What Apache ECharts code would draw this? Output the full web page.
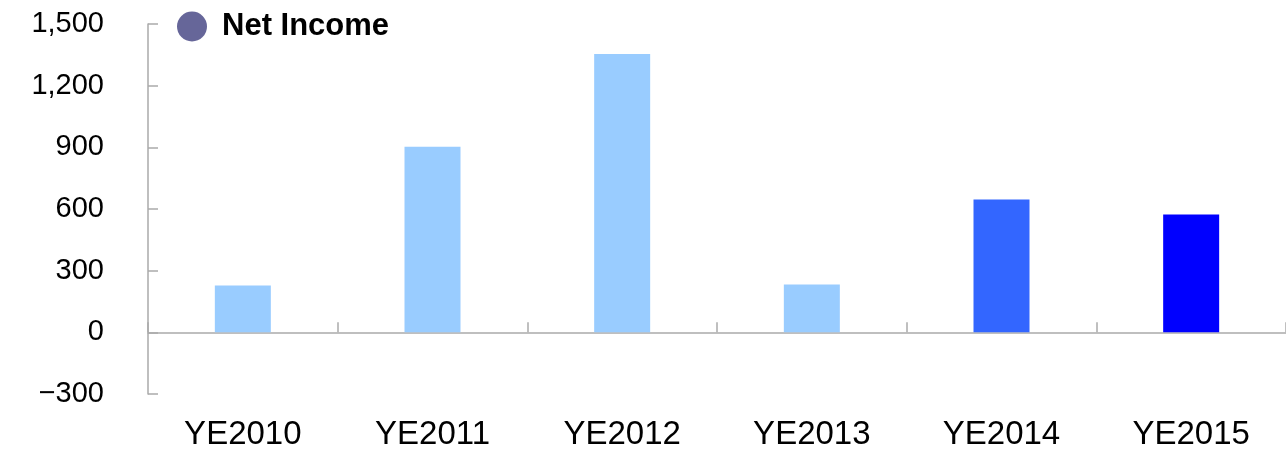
<!DOCTYPE html>
<html><head><meta charset="utf-8">
<script src="https://cdn.jsdelivr.net/npm/echarts@6/dist/echarts.min.js"></script>
<style>html,body{margin:0;padding:0;background:#fff}#c{width:1286px;height:466px}</style>
</head><body><div id="c"></div>
<script>
const categories = ['YE2010','YE2011','YE2012','YE2013','YE2014','YE2015'];
const netIncome = [228, 903, 1354, 233, 646, 573];
const barColors = ['#99CCFF','#99CCFF','#99CCFF','#99CCFF','#3366FF','#0000FF'];
const yTicks = {min: -300, max: 1500, interval: 300};
const seriesName = 'Net Income';

const chart = echarts.init(document.getElementById('c'));
const font = 'Liberation Sans';
chart.setOption({
  animation: false,
  grid: {left: 148, right: 0, top: 24, bottom: 72},
  legend: {
    left: 172, top: 6, itemWidth: 30, itemHeight: 30, itemGap: 10,
    icon: 'circle',
    textStyle: {fontFamily: font, fontWeight: 'bold', fontSize: 31, color: '#000', padding: [0, 0, 0, 10]},
    data: [{name: seriesName, itemStyle: {color: '#666699'}}]
  },
  xAxis: [{
    type: 'category', data: categories, position: 'bottom',
    axisLine: {show: false, onZero: false}, axisTick: {show: false},
    axisLabel: {fontFamily: font, fontSize: 33, color: '#000', margin: 24}
  }, {
    type: 'category', data: categories, position: 'bottom',
    axisLine: {show: true, onZero: true, lineStyle: {color: '#aaa', width: 1.5}},
    axisTick: {show: true, inside: true, length: 10, lineStyle: {color: '#aaa', width: 1.5}},
    axisLabel: {show: false}
  }],
  yAxis: {
    type: 'value', min: yTicks.min, max: yTicks.max, interval: yTicks.interval,
    axisLine: {show: true, lineStyle: {color: '#aaa', width: 1.5}},
    axisTick: {show: true, inside: true, length: 10, lineStyle: {color: '#aaa', width: 1.5}},
    splitLine: {show: false},
    axisLabel: {fontFamily: font, fontSize: 29, color: '#000', margin: 44,
      formatter: v => (v < 0 ? '\u2212' : '') + Math.abs(v).toLocaleString('en-US')}
  },
  series: [{
    name: seriesName, type: 'bar', xAxisIndex: 0, barWidth: 56,
    itemStyle: {color: '#666699'},
    data: netIncome.map((v, i) => ({value: v, itemStyle: {color: barColors[i]}}))
  }]
});
</script></body></html>
